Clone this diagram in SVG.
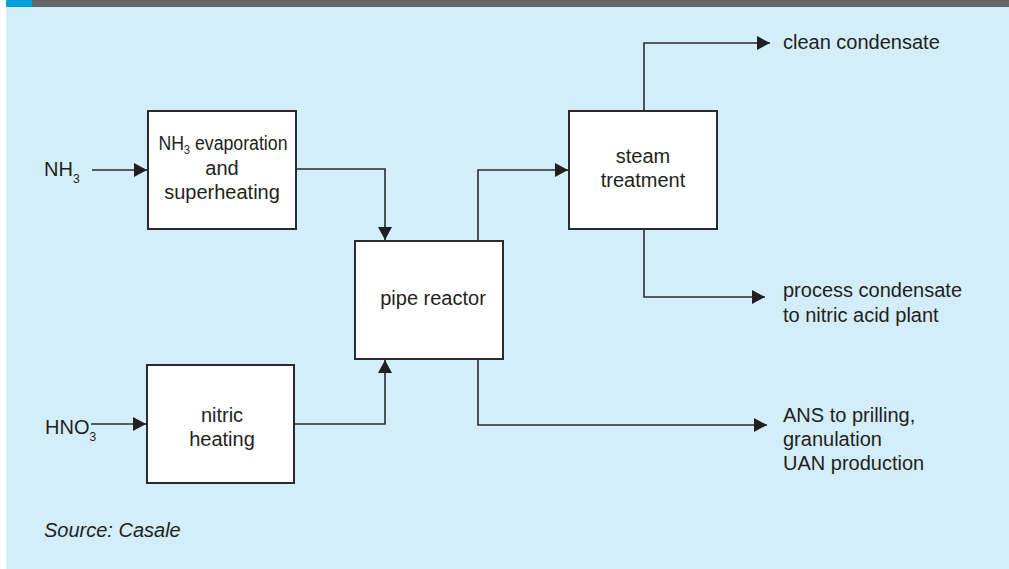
<svg xmlns="http://www.w3.org/2000/svg" width="1009" height="569" viewBox="0 0 1009 569">
<style>
  .bg { fill: #d3eefa; }
  .box { fill: #ffffff; stroke: #2b2b2d; stroke-width: 2; }
  .ln { fill: none; stroke: #2b2b2d; stroke-width: 1.6; }
  text { font-family: "Liberation Sans", Arial, sans-serif; font-size: 20px; fill: #231f20; }
  .c { text-anchor: middle; }
  .sub { font-size: 12px; }
  .src { font-style: italic; }
</style>
<defs>
  <marker id="arr" markerUnits="userSpaceOnUse" viewBox="0 0 13 14" markerWidth="13" markerHeight="14" refX="13" refY="7" orient="auto">
    <path d="M0,0 L13,7 L0,14 Z" fill="#231f20"/>
  </marker>
</defs>
<rect x="0" y="0" width="1009" height="569" fill="#ffffff"/>
<rect class="bg" x="6" y="7" width="1003" height="562"/>
<rect x="6" y="0" width="26" height="7" fill="#009fda"/>
<rect x="32" y="0" width="977" height="7" fill="#646567"/>

<g id="connectors">
  <path class="ln" d="M92,170 H147" marker-end="url(#arr)"/>
  <path class="ln" d="M91,424 H146" marker-end="url(#arr)"/>
  <path class="ln" d="M296,169 H385 V240" marker-end="url(#arr)"/>
  <path class="ln" d="M295,424 H385 V360" marker-end="url(#arr)"/>
  <path class="ln" d="M478,241 V170 H568" marker-end="url(#arr)"/>
  <path class="ln" d="M478,360 V425 H767" marker-end="url(#arr)"/>
  <path class="ln" d="M644,110 V43 H770" marker-end="url(#arr)"/>
  <path class="ln" d="M644,230 V297 H765" marker-end="url(#arr)"/>
</g>

<g id="nh3-input">
  <text x="44" y="176">NH<tspan class="sub" dy="7">3</tspan></text>
</g>
<g id="hno3-input">
  <text x="45" y="434">HNO<tspan class="sub" dy="7">3</tspan></text>
</g>

<g id="nh3-evaporation">
  <rect class="box" x="148" y="111" width="148" height="118"/>
  <text class="c" x="223" y="150" textLength="129" lengthAdjust="spacingAndGlyphs">NH<tspan class="sub" dy="4">3</tspan><tspan dy="-4"> evaporation</tspan></text>
  <text class="c" x="222" y="175">and</text>
  <text class="c" x="222" y="199">superheating</text>
</g>

<g id="nitric-heating">
  <rect class="box" x="147" y="365" width="147" height="118"/>
  <text class="c" x="222" y="422">nitric</text>
  <text class="c" x="222" y="446">heating</text>
</g>

<g id="pipe-reactor">
  <rect class="box" x="355" y="241" width="148" height="118"/>
  <text class="c" x="433" y="305">pipe reactor</text>
</g>

<g id="steam-treatment">
  <rect class="box" x="569" y="111" width="148" height="118"/>
  <text class="c" x="643" y="163">steam</text>
  <text class="c" x="643" y="187">treatment</text>
</g>

<g id="clean-condensate">
  <text x="783" y="49">clean condensate</text>
</g>
<g id="process-condensate">
  <text x="783" y="297">process condensate</text>
  <text x="783" y="322">to nitric acid plant</text>
</g>
<g id="ans-output">
  <text x="783" y="422">ANS to prilling,</text>
  <text x="783" y="446">granulation</text>
  <text x="783" y="470">UAN production</text>
</g>

<text class="src" x="44" y="537">Source: Casale</text>
</svg>
